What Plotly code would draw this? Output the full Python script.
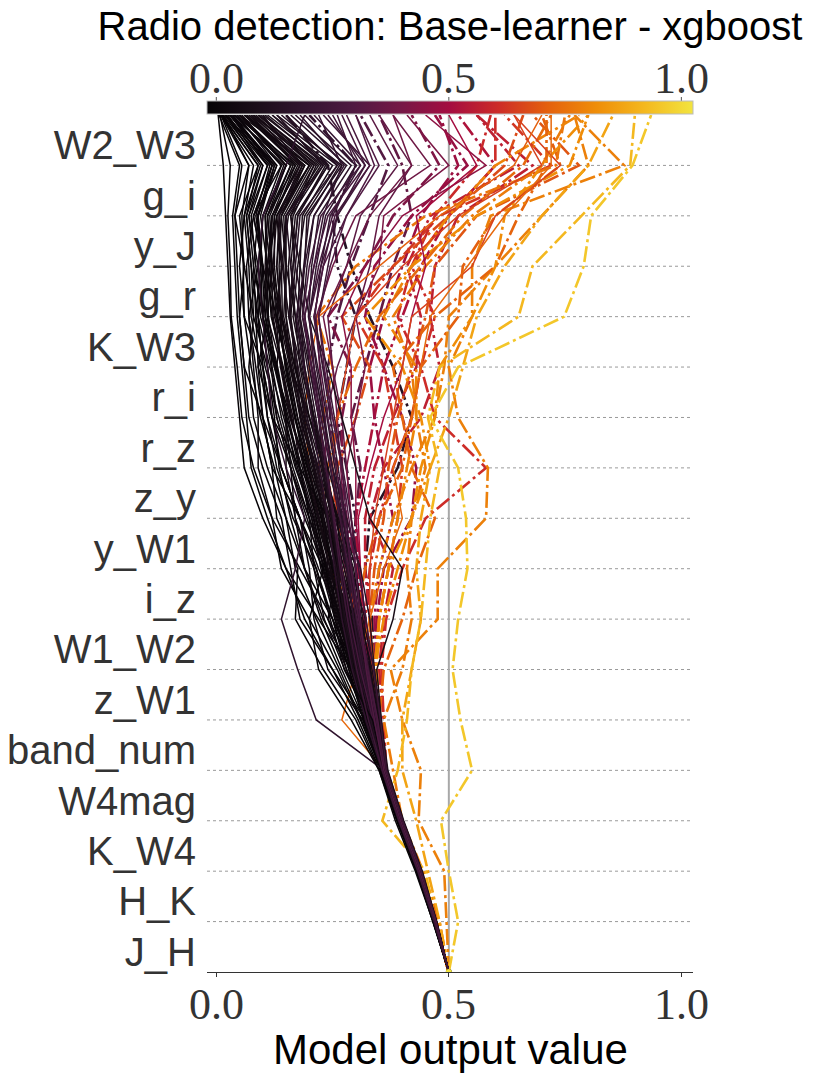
import plotly.graph_objects as go

# ---------------- data ----------------
feature_names = ["J_H", "H_K", "K_W4", "W4mag", "band_num", "z_W1", "W1_W2", "i_z",
                 "y_W1", "z_y", "r_z", "r_i", "K_W3", "g_r", "y_J", "g_i", "W2_W3"]
base_value = 0.5
tick_values = [0.0, 0.5, 1.0]
tick_labels = ["0.0", "0.5", "1.0"]

# cumulative model output after each feature (bottom -> top), last value = prediction
dark_paths = [
    [0.470,0.435,0.395,0.360,0.330,0.290,0.220,0.150,0.100,0.060,0.050,0.040,0.030,0.025,0.020,0.015,0.004],
    [0.468,0.432,0.390,0.355,0.310,0.260,0.200,0.140,0.120,0.080,0.055,0.045,0.032,0.030,0.025,0.030,0.008],
    [0.471,0.436,0.392,0.358,0.320,0.250,0.180,0.160,0.140,0.100,0.070,0.060,0.050,0.060,0.040,0.070,0.015],
    [0.472,0.440,0.400,0.365,0.340,0.300,0.250,0.190,0.150,0.110,0.080,0.070,0.080,0.060,0.050,0.090,0.012],
    [0.470,0.438,0.398,0.362,0.330,0.280,0.240,0.180,0.120,0.090,0.090,0.080,0.070,0.090,0.070,0.110,0.030],
    [0.466,0.430,0.388,0.350,0.300,0.230,0.170,0.175,0.130,0.120,0.100,0.090,0.085,0.080,0.090,0.120,0.020],
    [0.474,0.442,0.402,0.368,0.350,0.320,0.270,0.220,0.180,0.140,0.110,0.100,0.090,0.100,0.080,0.140,0.040],
    [0.470,0.437,0.396,0.360,0.340,0.310,0.280,0.240,0.200,0.160,0.130,0.110,0.100,0.090,0.100,0.150,0.050],
    [0.469,0.434,0.393,0.357,0.325,0.295,0.260,0.230,0.210,0.170,0.140,0.120,0.110,0.120,0.110,0.160,0.030],
    [0.471,0.438,0.397,0.361,0.345,0.315,0.290,0.250,0.220,0.190,0.160,0.140,0.120,0.110,0.120,0.180,0.060],
    [0.473,0.440,0.399,0.363,0.350,0.330,0.300,0.270,0.240,0.200,0.170,0.150,0.130,0.140,0.130,0.190,0.070],
    [0.467,0.433,0.392,0.356,0.320,0.280,0.250,0.210,0.170,0.150,0.150,0.130,0.140,0.130,0.140,0.200,0.050],
    [0.470,0.436,0.395,0.359,0.335,0.300,0.270,0.260,0.230,0.210,0.180,0.160,0.150,0.150,0.150,0.210,0.080],
    [0.472,0.439,0.398,0.362,0.348,0.325,0.295,0.280,0.250,0.220,0.190,0.170,0.160,0.170,0.160,0.230,0.090],
    [0.469,0.435,0.394,0.358,0.330,0.290,0.265,0.235,0.190,0.160,0.120,0.100,0.060,0.050,0.060,0.080,0.010],
    [0.471,0.437,0.396,0.360,0.338,0.305,0.275,0.245,0.215,0.185,0.150,0.130,0.100,0.080,0.070,0.100,0.025],
    [0.468,0.434,0.393,0.357,0.322,0.285,0.255,0.225,0.205,0.175,0.145,0.115,0.090,0.100,0.090,0.130,0.045],
    [0.473,0.441,0.401,0.366,0.352,0.335,0.310,0.285,0.255,0.230,0.200,0.180,0.170,0.160,0.170,0.240,0.100],
    [0.470,0.436,0.395,0.359,0.328,0.275,0.245,0.215,0.165,0.130,0.110,0.095,0.075,0.070,0.060,0.095,0.020],
    [0.472,0.438,0.397,0.361,0.342,0.312,0.288,0.262,0.238,0.205,0.175,0.155,0.125,0.115,0.105,0.150,0.055],
    [0.467,0.432,0.391,0.355,0.315,0.240,0.210,0.200,0.180,0.140,0.100,0.085,0.070,0.065,0.080,0.120,0.035],
    [0.471,0.437,0.396,0.360,0.336,0.308,0.282,0.252,0.228,0.198,0.168,0.148,0.138,0.135,0.140,0.190,0.065],
    [0.469,0.435,0.394,0.358,0.332,0.298,0.268,0.240,0.212,0.180,0.165,0.140,0.110,0.105,0.110,0.170,0.075],
    [0.474,0.443,0.403,0.369,0.355,0.340,0.315,0.300,0.270,0.240,0.210,0.190,0.175,0.180,0.185,0.250,0.110],
    [0.470,0.436,0.395,0.359,0.333,0.302,0.272,0.248,0.225,0.195,0.160,0.125,0.095,0.085,0.075,0.110,0.018],
    [0.468,0.433,0.392,0.356,0.318,0.270,0.225,0.190,0.160,0.135,0.125,0.110,0.080,0.075,0.065,0.090,0.012],
    [0.472,0.439,0.398,0.362,0.344,0.318,0.292,0.268,0.245,0.215,0.185,0.165,0.145,0.150,0.145,0.205,0.085],
    [0.471,0.438,0.397,0.361,0.340,0.310,0.285,0.255,0.220,0.200,0.180,0.175,0.160,0.155,0.165,0.215,0.095],
    [0.469,0.434,0.393,0.357,0.326,0.292,0.262,0.232,0.200,0.165,0.135,0.105,0.085,0.095,0.100,0.140,0.040],
    [0.470,0.436,0.395,0.359,0.334,0.305,0.278,0.258,0.232,0.208,0.182,0.158,0.135,0.125,0.125,0.175,0.060],
    [0.466,0.431,0.389,0.352,0.305,0.250,0.190,0.150,0.110,0.075,0.065,0.055,0.045,0.040,0.035,0.050,0.006],
    [0.473,0.440,0.400,0.364,0.347,0.322,0.298,0.275,0.248,0.225,0.195,0.168,0.150,0.145,0.150,0.220,0.080],
    [0.470,0.437,0.396,0.360,0.337,0.306,0.280,0.250,0.226,0.196,0.170,0.145,0.118,0.110,0.095,0.125,0.028],
    [0.471,0.438,0.397,0.361,0.341,0.314,0.287,0.263,0.242,0.218,0.192,0.172,0.158,0.165,0.175,0.235,0.105],
    [0.469,0.435,0.394,0.358,0.329,0.296,0.266,0.238,0.208,0.178,0.152,0.132,0.105,0.098,0.088,0.125,0.035],
    [0.472,0.439,0.398,0.363,0.346,0.320,0.294,0.270,0.250,0.228,0.205,0.185,0.165,0.175,0.190,0.260,0.120],
    [0.468,0.433,0.392,0.356,0.324,0.288,0.258,0.228,0.195,0.160,0.130,0.118,0.100,0.110,0.120,0.165,0.050],
    [0.470,0.436,0.395,0.359,0.331,0.300,0.270,0.244,0.222,0.192,0.158,0.138,0.128,0.122,0.130,0.185,0.070],
    [0.471,0.437,0.396,0.360,0.339,0.309,0.283,0.257,0.236,0.210,0.185,0.162,0.142,0.140,0.155,0.225,0.090],
    [0.467,0.432,0.390,0.354,0.312,0.265,0.215,0.170,0.150,0.125,0.095,0.075,0.060,0.058,0.055,0.070,0.010],
    [0.470,0.437,0.396,0.360,0.335,0.303,0.276,0.252,0.230,0.202,0.174,0.152,0.132,0.120,0.115,0.160,0.045],
    [0.473,0.441,0.401,0.366,0.351,0.328,0.305,0.280,0.258,0.235,0.210,0.190,0.180,0.190,0.195,0.270,0.130],
    [0.469,0.434,0.393,0.357,0.327,0.294,0.264,0.236,0.205,0.172,0.148,0.128,0.112,0.108,0.105,0.145,0.038],
    [0.471,0.438,0.397,0.361,0.343,0.316,0.290,0.266,0.240,0.212,0.188,0.160,0.140,0.130,0.135,0.200,0.075],
    [0.470,0.436,0.395,0.359,0.336,0.304,0.274,0.246,0.218,0.188,0.162,0.142,0.122,0.118,0.120,0.180,0.065],
    [0.472,0.440,0.400,0.365,0.355,0.345,0.380,0.400,0.330,0.300,0.270,0.240,0.200,0.180,0.160,0.210,0.090],
    [0.470,0.436,0.395,0.360,0.215,0.175,0.140,0.170,0.190,0.150,0.120,0.110,0.100,0.090,0.100,0.150,0.190],
    [0.466,0.428,0.385,0.350,0.290,0.220,0.200,0.230,0.180,0.120,0.100,0.060,0.050,0.045,0.040,0.055,0.010],
    [0.473,0.441,0.401,0.366,0.345,0.300,0.240,0.260,0.240,0.180,0.120,0.090,0.110,0.100,0.080,0.120,0.030],
    [0.470,0.436,0.395,0.360,0.338,0.330,0.300,0.240,0.230,0.240,0.200,0.160,0.140,0.110,0.130,0.200,0.060],
    [0.468,0.433,0.392,0.356,0.320,0.310,0.320,0.290,0.260,0.230,0.220,0.200,0.180,0.160,0.150,0.230,0.130],
    [0.471,0.437,0.396,0.361,0.343,0.290,0.230,0.190,0.170,0.160,0.150,0.125,0.105,0.115,0.125,0.170,0.040],
    [0.472,0.439,0.399,0.364,0.350,0.340,0.330,0.310,0.280,0.250,0.230,0.210,0.190,0.170,0.180,0.260,0.150],
    [0.469,0.434,0.393,0.357,0.326,0.300,0.285,0.270,0.260,0.230,0.200,0.170,0.140,0.120,0.110,0.150,0.050],
    [0.470,0.436,0.395,0.359,0.335,0.312,0.296,0.280,0.265,0.245,0.225,0.205,0.185,0.195,0.210,0.280,0.160],
    [0.467,0.432,0.391,0.355,0.316,0.285,0.250,0.215,0.180,0.140,0.120,0.100,0.090,0.075,0.065,0.100,0.015],
    [0.471,0.438,0.397,0.361,0.341,0.318,0.300,0.288,0.272,0.255,0.238,0.218,0.198,0.205,0.220,0.290,0.170],
    [0.472,0.440,0.400,0.364,0.349,0.332,0.312,0.295,0.262,0.230,0.210,0.188,0.170,0.150,0.140,0.185,0.080],
    [0.469,0.435,0.394,0.358,0.330,0.295,0.275,0.262,0.248,0.228,0.208,0.182,0.156,0.142,0.135,0.180,0.100],
    [0.470,0.437,0.396,0.360,0.339,0.315,0.295,0.282,0.268,0.250,0.232,0.215,0.200,0.215,0.235,0.300,0.190],
    [0.468,0.434,0.393,0.357,0.325,0.290,0.255,0.235,0.215,0.190,0.170,0.150,0.130,0.100,0.085,0.115,0.022],
    [0.471,0.437,0.396,0.361,0.346,0.328,0.308,0.292,0.278,0.262,0.245,0.228,0.212,0.225,0.245,0.310,0.210],
    [0.470,0.436,0.395,0.359,0.333,0.306,0.284,0.266,0.250,0.232,0.214,0.196,0.178,0.188,0.200,0.265,0.140],
    [0.473,0.441,0.401,0.366,0.353,0.338,0.322,0.306,0.290,0.272,0.254,0.236,0.220,0.240,0.260,0.330,0.230],
    [0.469,0.435,0.394,0.358,0.328,0.300,0.278,0.258,0.238,0.216,0.196,0.176,0.156,0.165,0.175,0.240,0.120],
    [0.471,0.438,0.397,0.361,0.344,0.324,0.302,0.284,0.266,0.246,0.226,0.206,0.186,0.200,0.225,0.310,0.250],
    [0.470,0.436,0.395,0.360,0.337,0.310,0.288,0.270,0.254,0.236,0.220,0.204,0.190,0.210,0.240,0.320,0.270],
    [0.468,0.433,0.392,0.356,0.322,0.292,0.270,0.254,0.240,0.222,0.205,0.188,0.172,0.190,0.210,0.275,0.180],
    [0.472,0.439,0.398,0.363,0.347,0.326,0.306,0.290,0.275,0.258,0.240,0.224,0.210,0.230,0.255,0.330,0.280],
    [0.470,0.437,0.396,0.360,0.336,0.276,0.232,0.210,0.200,0.180,0.155,0.128,0.100,0.095,0.090,0.130,0.030],
    [0.471,0.437,0.396,0.360,0.340,0.322,0.310,0.300,0.285,0.270,0.250,0.232,0.220,0.245,0.280,0.350,0.300],
    [0.469,0.434,0.393,0.357,0.327,0.302,0.282,0.266,0.252,0.236,0.222,0.210,0.200,0.225,0.260,0.320,0.240],
]

mid_paths = [
    [0.470,0.436,0.395,0.360,0.340,0.320,0.300,0.280,0.270,0.250,0.230,0.210,0.200,0.220,0.250,0.300,0.260],
    [0.471,0.437,0.396,0.361,0.345,0.325,0.305,0.290,0.280,0.270,0.250,0.230,0.210,0.230,0.280,0.340,0.300],
    [0.469,0.435,0.394,0.358,0.335,0.310,0.290,0.270,0.250,0.240,0.220,0.200,0.190,0.210,0.230,0.270,0.220],
    [0.472,0.438,0.397,0.362,0.348,0.330,0.310,0.300,0.290,0.280,0.270,0.250,0.240,0.280,0.310,0.390,0.330],
    [0.470,0.436,0.395,0.359,0.338,0.318,0.296,0.276,0.262,0.246,0.232,0.222,0.215,0.250,0.300,0.460,0.380],
    [0.468,0.434,0.393,0.357,0.330,0.305,0.285,0.265,0.245,0.235,0.235,0.260,0.300,0.330,0.350,0.420,0.350],
    [0.471,0.437,0.396,0.361,0.348,0.335,0.320,0.310,0.300,0.300,0.290,0.290,0.270,0.320,0.400,0.580,0.450],
    [0.470,0.436,0.395,0.360,0.346,0.332,0.322,0.306,0.290,0.280,0.300,0.320,0.300,0.350,0.360,0.500,0.410],
    [0.470,0.436,0.395,0.359,0.342,0.325,0.318,0.310,0.305,0.330,0.360,0.400,0.420,0.450,0.430,0.560,0.500],
    [0.469,0.435,0.394,0.358,0.338,0.318,0.300,0.285,0.275,0.268,0.260,0.250,0.230,0.280,0.330,0.420,0.380],
    [0.470,0.436,0.395,0.360,0.345,0.335,0.330,0.330,0.340,0.360,0.380,0.400,0.420,0.550,0.600,0.740,0.640],
    [0.472,0.438,0.397,0.361,0.270,0.300,0.330,0.360,0.400,0.380,0.420,0.440,0.460,0.540,0.620,0.720,0.720],
    [0.470,0.436,0.395,0.359,0.330,0.300,0.270,0.250,0.220,0.200,0.190,0.200,0.220,0.350,0.480,0.640,0.700],
    [0.470,0.436,0.395,0.359,0.340,0.320,0.300,0.280,0.260,0.250,0.260,0.280,0.300,0.400,0.520,0.700,0.640],
]

highlight_paths = [
    [0.471,0.437,0.396,0.360,0.342,0.322,0.300,0.285,0.275,0.260,0.245,0.240,0.260,0.290,0.330,0.370,0.310],
    [0.470,0.436,0.395,0.360,0.345,0.330,0.320,0.300,0.300,0.310,0.290,0.320,0.350,0.380,0.420,0.400,0.350],
    [0.471,0.437,0.396,0.361,0.350,0.340,0.335,0.320,0.330,0.390,0.420,0.380,0.330,0.290,0.260,0.240,0.150],
    [0.470,0.436,0.395,0.359,0.340,0.320,0.300,0.290,0.300,0.280,0.260,0.280,0.300,0.260,0.250,0.300,0.200],
    [0.470,0.436,0.395,0.360,0.345,0.330,0.315,0.305,0.300,0.320,0.340,0.360,0.400,0.440,0.500,0.600,0.520],
    [0.469,0.435,0.394,0.358,0.340,0.320,0.310,0.300,0.280,0.270,0.270,0.290,0.240,0.320,0.380,0.480,0.420],
    [0.472,0.438,0.397,0.362,0.350,0.345,0.340,0.350,0.380,0.360,0.340,0.330,0.360,0.400,0.440,0.520,0.480],
    [0.471,0.437,0.396,0.361,0.350,0.340,0.330,0.320,0.320,0.340,0.380,0.430,0.440,0.410,0.460,0.650,0.560],
    [0.472,0.440,0.400,0.365,0.360,0.350,0.360,0.380,0.330,0.360,0.440,0.480,0.460,0.470,0.520,0.680,0.560],
    [0.471,0.437,0.396,0.361,0.352,0.342,0.345,0.360,0.420,0.430,0.400,0.360,0.320,0.340,0.420,0.540,0.470],
    [0.472,0.440,0.400,0.365,0.360,0.355,0.365,0.400,0.450,0.580,0.470,0.440,0.470,0.420,0.500,0.600,0.600],
    [0.470,0.436,0.395,0.360,0.350,0.340,0.350,0.370,0.390,0.400,0.380,0.360,0.300,0.380,0.480,0.720,0.620],
    [0.471,0.437,0.396,0.361,0.348,0.340,0.330,0.340,0.360,0.370,0.390,0.420,0.450,0.470,0.560,0.780,0.680],
    [0.469,0.435,0.394,0.358,0.338,0.325,0.320,0.330,0.350,0.380,0.420,0.440,0.390,0.420,0.470,0.560,0.590],
    [0.480,0.445,0.400,0.380,0.360,0.400,0.420,0.410,0.420,0.450,0.430,0.420,0.380,0.450,0.550,0.700,0.760],
    [0.478,0.440,0.398,0.360,0.330,0.310,0.300,0.320,0.350,0.400,0.420,0.440,0.520,0.530,0.600,0.740,0.700],
    [0.471,0.437,0.396,0.361,0.352,0.345,0.350,0.370,0.420,0.460,0.440,0.400,0.320,0.420,0.560,0.760,0.800],
    [0.470,0.436,0.395,0.360,0.345,0.330,0.330,0.350,0.380,0.420,0.470,0.490,0.500,0.600,0.700,0.800,0.770],
    [0.471,0.437,0.396,0.360,0.340,0.310,0.280,0.260,0.240,0.220,0.230,0.250,0.215,0.300,0.450,0.730,0.750],
    [0.470,0.435,0.394,0.358,0.335,0.300,0.290,0.270,0.250,0.260,0.300,0.330,0.270,0.380,0.500,0.620,0.660],
    [0.472,0.438,0.397,0.361,0.350,0.340,0.350,0.370,0.390,0.410,0.430,0.430,0.360,0.420,0.500,0.600,0.780],
    [0.469,0.434,0.392,0.356,0.330,0.310,0.280,0.260,0.250,0.240,0.260,0.300,0.350,0.440,0.530,0.660,0.720],
    [0.475,0.440,0.400,0.360,0.350,0.360,0.400,0.430,0.470,0.420,0.400,0.380,0.470,0.600,0.650,0.710,0.710],
    [0.495,0.490,0.435,0.440,0.400,0.375,0.476,0.476,0.580,0.584,0.520,0.500,0.550,0.550,0.590,0.877,0.770],
    [0.480,0.455,0.430,0.400,0.400,0.420,0.440,0.430,0.440,0.460,0.500,0.530,0.560,0.620,0.700,0.800,0.853],
    [0.470,0.436,0.395,0.360,0.350,0.340,0.360,0.390,0.420,0.440,0.470,0.480,0.550,0.600,0.620,0.700,0.800],
    [0.470,0.450,0.357,0.390,0.410,0.420,0.440,0.450,0.460,0.480,0.455,0.480,0.650,0.680,0.785,0.890,0.900],
    [0.520,0.500,0.483,0.550,0.525,0.508,0.520,0.540,0.537,0.520,0.460,0.520,0.748,0.790,0.806,0.895,0.935],
]

# ---------------- styling ----------------
color_stops = [
    (0.00, "#050305"), (0.10, "#1a0d18"), (0.20, "#321530"), (0.30, "#4f1a42"),
    (0.40, "#761846"), (0.50, "#a50d40"), (0.60, "#cd2c28"), (0.70, "#e4600e"),
    (0.80, "#ef8d08"), (0.90, "#f4b81f"), (1.00, "#f2e43f"),
]
colorscale = [[p, c] for p, c in color_stops]


def _rgb(h):
    h = h.lstrip("#")
    return tuple(int(h[i:i + 2], 16) for i in (0, 2, 4))


def value_color(v):
    v = min(max(v, 0.0), 1.0)
    for (p0, c0), (p1, c1) in zip(color_stops[:-1], color_stops[1:]):
        if p0 <= v <= p1:
            t = (v - p0) / (p1 - p0) if p1 > p0 else 0
            a, b = _rgb(c0), _rgb(c1)
            r = [round(a[i] + (b[i] - a[i]) * t) for i in range(3)]
            return "rgb(%d,%d,%d)" % tuple(r)
    return color_stops[-1][1]


n_feat = len(feature_names)
levels = list(range(n_feat + 1))
fig = go.Figure()


def add_path(vals, dash, width):
    xs = [base_value] + list(vals)
    fig.add_trace(go.Scatter(
        x=xs, y=levels, mode="lines",
        line=dict(color=value_color(xs[-1]), width=width, dash=dash),
        hoverinfo="skip", showlegend=False))


for p in highlight_paths:
    add_path(p, "16px,4px,3px,4px", 2.6)
for p in mid_paths:
    add_path(p, "solid", 1.5)
for p in dark_paths:
    add_path(p, "solid", 1.5)

# page geometry: the page body adds an 8px offset, so the figure is sized to fit the
# 830x1080 window after that offset; coordinates below are figure (pre-offset) pixels
W, H = 822, 1072
plot_left, plot_right = 199, 685
plot_top, plot_bottom = 107, 964
plot_h = plot_bottom - plot_top


def paper_y(px):
    return (plot_bottom - px) / plot_h


# colorbar carrier
fig.add_trace(go.Scatter(
    x=[base_value, base_value], y=[0, 0], mode="markers",
    marker=dict(size=0, color=[0, 1], cmin=0, cmax=1, colorscale=colorscale,
                showscale=True,
                colorbar=dict(orientation="h", x=0.5, xanchor="center", y=1.0, yanchor="bottom",
                              len=1.0, lenmode="fraction", thickness=13, xpad=0, ypad=0,
                              outlinewidth=1, outlinecolor="#bbbbbb",
                              showticklabels=False, ticks="")),
    hoverinfo="skip", showlegend=False))

serif = dict(family="Liberation Serif", size=44, color="#333333")
for tv, tl in zip(tick_values, tick_labels):
    # colorbar tick labels (above the bar)
    fig.add_annotation(x=tv, xref="x", y=paper_y(70), yref="paper", text=tl, showarrow=False,
                       xanchor="center", yanchor="middle", font=serif)
    fig.add_shape(type="line", x0=tv, x1=tv, xref="x", y0=paper_y(94), y1=paper_y(89),
                  yref="paper", line=dict(color="#555555", width=1))
    # x-axis tick labels
    fig.add_annotation(x=tv, xref="x", y=paper_y(996), yref="paper", text=tl, showarrow=False,
                       xanchor="center", yanchor="middle", font=serif)

fig.add_annotation(x=0.5, xref="paper", y=paper_y(1041), yref="paper", text="Model output value",
                   showarrow=False, xanchor="center", yanchor="middle",
                   font=dict(family="Liberation Sans", size=42, color="#000000"))

# dotted horizontal separators
for k in range(1, n_feat):
    fig.add_shape(type="line", xref="paper", x0=0, x1=1, y0=k, y1=k,
                  line=dict(color="#9a9a9a", width=1, dash="dot"), layer="below")
# base value line
fig.add_shape(type="line", x0=base_value, x1=base_value, y0=0, y1=n_feat,
              line=dict(color="#a8a8a8", width=2), layer="below")

fig.update_layout(
    width=W, height=H,
    margin=dict(l=plot_left, r=W - plot_right, t=plot_top, b=H - plot_bottom, autoexpand=False),
    paper_bgcolor="white", plot_bgcolor="white",
    title=dict(text="Radio detection: Base-learner - xgboost", x=0.5, xref="paper",
               xanchor="center", y=1 - 25 / H, yanchor="middle",
               font=dict(family="Liberation Sans", size=40, color="#000000")),
    xaxis=dict(range=[-0.02, 1.025], tickvals=tick_values, showticklabels=False,
               automargin=False,
               showgrid=False, zeroline=False, showline=True, linecolor="#333333", linewidth=1.2,
               ticks="outside", ticklen=4, tickcolor="#333333"),
    yaxis=dict(range=[0, n_feat], automargin=False,
               tickvals=[i + 0.4 for i in range(n_feat)], ticktext=feature_names,
               showgrid=False, zeroline=False, showline=False, ticks="",
               ticklabelstandoff=10,
               tickfont=dict(family="Liberation Sans", size=40, color="#333333")),
)

fig.write_html("out.html")
